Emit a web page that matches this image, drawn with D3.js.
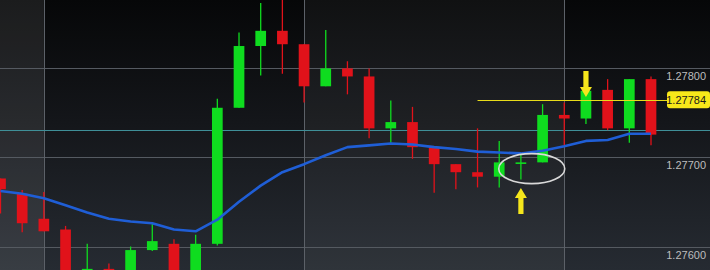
<!DOCTYPE html>
<html><head><meta charset="utf-8">
<script src="https://cdn.jsdelivr.net/npm/d3@7/dist/d3.min.js"></script>
<style>html,body{margin:0;padding:0;background:#000;overflow:hidden}svg{display:block}</style>
</head><body>
<svg id="c" width="710" height="270"></svg>
<script>
// ---- data ----
const opens  = [1.27676,1.27659,1.27631,1.27619,1.27549,1.27575,1.27560,1.27596,1.27603,1.27562,1.27603,1.27755,1.27824,1.27841,1.27826,1.27779,1.27799,1.27790,1.27732,1.27739,1.27711,1.27692,1.27683,1.27678,1.27693,1.27694,1.27747,1.27743,1.27775,1.27732,1.27787];
const highs  = [1.27676,1.27663,1.27661,1.27623,1.27603,1.27581,1.27600,1.27627,1.27608,1.27613,1.27765,1.27839,1.27872,1.27880,1.27826,1.27842,1.27807,1.27799,1.27763,1.27756,1.27711,1.27692,1.27732,1.27718,1.27704,1.27759,1.27761,1.27777,1.27787,1.27787,1.27790];
const lows   = [1.27637,1.27616,1.27617,1.27545,1.27540,1.27551,1.27551,1.27595,1.27556,1.27556,1.27601,1.27755,1.27791,1.27793,1.27761,1.27779,1.27770,1.27721,1.27716,1.27698,1.27660,1.27664,1.27666,1.27666,1.27675,1.27694,1.27711,1.27737,1.27730,1.27716,1.27713];
const closes = [1.27664,1.27626,1.27617,1.27551,1.27575,1.27560,1.27596,1.27606,1.27562,1.27603,1.27755,1.27824,1.27841,1.27826,1.27779,1.27799,1.27790,1.27732,1.27739,1.27711,1.27692,1.27683,1.27678,1.27694,1.27694,1.27747,1.27743,1.27774,1.27732,1.27787,1.27725];
const movingAvg = [1.27662,1.27659,1.27654,1.27646,1.27638,1.27631,1.27628,1.27626,1.27619,1.27617,1.27630,1.27650,1.27668,1.27683,1.27692,1.27702,1.27711,1.27713,1.27715,1.27714,1.27711,1.27709,1.27706,1.27705,1.27704,1.27707,1.27712,1.27718,1.27719,1.27726,1.27726];
const yTicks = [1.27800, 1.27700, 1.27600];
const xGridIdx = [2, 14, 26];
const currentLine = 1.27730;
const levelPrice = 1.27764;
const levelLabel = "1.27784";
const levelStartIdx = 22;
const downArrowIdx = 27;
const upArrowIdx = 24;
const circleIdx = 24.5, circlePrice = 1.27687;

// ---- setup ----
const W = 710, H = 270;
const svg = d3.select("#c");
const x = d3.scaleLinear().domain([0, 30]).range([0.5, 651]);
const y = d3.scaleLinear().domain([1.27600, 1.27800]).range([246.5, 67.5]);
const defs = svg.append("defs");
const g = defs.append("linearGradient").attr("id","bg").attr("x1",0).attr("y1",0).attr("x2",0).attr("y2",1);
g.append("stop").attr("offset","0%").attr("stop-color","#060708");
g.append("stop").attr("offset","45%").attr("stop-color","#14161a");
g.append("stop").attr("offset","100%").attr("stop-color","#262b32");
svg.append("rect").attr("width",W).attr("height",H).attr("fill","url(#bg)");

// alternating bands between vertical grid lines
const bandEdges = [-50, ...xGridIdx.map(i => x(i)), W + 50];
const bandOpacity = [0.085, 0, 0.045, 0];
for (let k = 0; k < bandEdges.length - 1; k++) {
  if (bandOpacity[k] > 0) {
    svg.append("rect").attr("x", bandEdges[k]).attr("y", 0)
      .attr("width", bandEdges[k+1] - bandEdges[k]).attr("height", H)
      .attr("fill", "#ffffff").attr("opacity", bandOpacity[k]);
  }
}

// grid
svg.append("g").selectAll("line").data(yTicks).join("line")
  .attr("x1",0).attr("x2",W).attr("y1",d=>Math.round(y(d))+0.5).attr("y2",d=>Math.round(y(d))+0.5)
  .attr("stroke","#555a61").attr("stroke-width",1);
svg.append("g").selectAll("line").data(xGridIdx).join("line")
  .attr("x1",d=>Math.round(x(d))+0.5).attr("x2",d=>Math.round(x(d))+0.5).attr("y1",0).attr("y2",H)
  .attr("stroke","#5c6168").attr("stroke-width",1);

// axis labels
const axis = d3.axisRight(y).tickValues(yTicks).tickSize(0).tickFormat(d3.format(".5f"));
const ax = svg.append("g").attr("transform","translate(675,0)").call(axis);
ax.select(".domain").remove();
ax.selectAll("text").attr("x",31).attr("dy","1.05em").attr("text-anchor","end")
  .attr("fill","#bdbdbd").style("font-family","Liberation Sans, Arial, sans-serif").style("font-size","11px");

// current price line (teal)
svg.append("line").attr("x1",0).attr("x2",W)
  .attr("y1",Math.round(y(currentLine))+0.5).attr("y2",Math.round(y(currentLine))+0.5)
  .attr("stroke","#3f8f98").attr("stroke-width",1);

// candles
const data = opens.map((o,i)=>({i,o,h:highs[i],l:lows[i],c:closes[i]}));
const bw = 10.7;
const cg = svg.append("g");
const col = d => d.c >= d.o ? "#0fdc1f" : "#e1121a";
cg.selectAll("line").data(data).join("line")
  .attr("x1",d=>x(d.i)).attr("x2",d=>x(d.i))
  .attr("y1",d=>y(d.h)).attr("y2",d=>y(d.l))
  .attr("stroke",col).attr("stroke-width",1.3);
cg.selectAll("rect").data(data).join("rect")
  .attr("x",d=>x(d.i)-bw/2).attr("width",bw)
  .attr("y",d=>Math.min(y(d.o),y(d.c)))
  .attr("height",d=>Math.max(1.6,Math.abs(y(d.o)-y(d.c))))
  .attr("fill",col);

// moving average
svg.append("path").datum(movingAvg)
  .attr("d", d3.line().x((d,i)=>x(i)).y(d=>y(d)))
  .attr("fill","none").attr("stroke","#1f5ed6").attr("stroke-width",2.6).attr("stroke-linejoin","round");

// yellow level line + label
const ly = y(levelPrice);
svg.append("line").attr("x1",x(levelStartIdx)).attr("x2",668).attr("y1",Math.round(ly)+0.5).attr("y2",Math.round(ly)+0.5)
  .attr("stroke","#e8dc1a").attr("stroke-width",1);
svg.append("rect").attr("x",667).attr("y",ly-8.5).attr("width",43).attr("height",17).attr("rx",3)
  .attr("fill","#f7e81a");
svg.append("text").attr("x",706).attr("y",ly+4).attr("text-anchor","end")
  .attr("fill","#1a1a1a").style("font-family","Liberation Sans, Arial, sans-serif").style("font-size","11px")
  .text(levelLabel);

// ellipse
svg.append("ellipse").attr("cx",x(circleIdx)).attr("cy",y(circlePrice)).attr("rx",33).attr("ry",15)
  .attr("fill","none").attr("stroke","#d9d9d9").attr("stroke-width",1.6);

// arrows
function arrow(cx, tipY, dir) { // dir: 1 = pointing down, -1 = pointing up
  const shaftLen = 16, headLen = 10, headW = 6, sw = 2.6;
  const baseY = tipY - dir*headLen;
  const tailY = baseY - dir*shaftLen;
  const p = d3.path();
  p.moveTo(cx - sw, tailY); p.lineTo(cx + sw, tailY); p.lineTo(cx + sw, baseY);
  p.lineTo(cx + headW, baseY); p.lineTo(cx, tipY); p.lineTo(cx - headW, baseY);
  p.lineTo(cx - sw, baseY); p.closePath();
  svg.append("path").attr("d", p.toString()).attr("fill","#f5e61c");
}
arrow(x(downArrowIdx), 97, 1);
arrow(x(upArrowIdx), 188, -1);
</script>
</body></html>
